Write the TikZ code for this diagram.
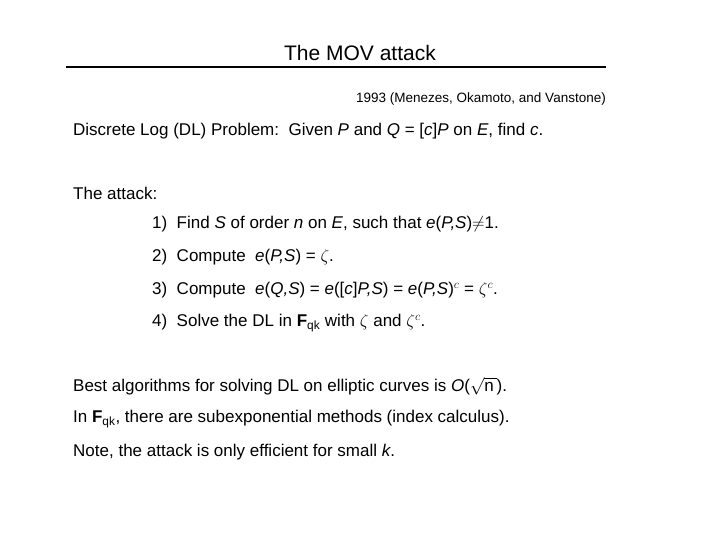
\documentclass[tikz,border=0pt]{standalone}
\usepackage{fontspec}
\setmainfont{Liberation Sans}
\begin{document}
\begin{tikzpicture}[x=1pt,y=-1pt]
\tikzset{txt/.style={anchor=west,inner sep=0pt,font=\fontsize{17}{20}\selectfont}}
\useasboundingbox (0,0) rectangle (720,540);
\node[inner sep=0pt,font=\fontsize{21}{24}\selectfont] (title) at (360,53) {The MOV attack};
\draw[line width=1.2pt] (66,67) -- (606,67);
\node[anchor=east,inner sep=0pt,font=\fontsize{13.5}{16}\selectfont] (sub) at (606,99) {1993 (Menezes, Okamoto, and Vanstone)};
\node[txt] (dl) at (73,131) {Discrete Log (DL) Problem:\ \ Given \textit{P} and \textit{Q} = [\textit{c}]\textit{P} on \textit{E}, find \textit{c}.};
\node[txt] (att) at (73,193) {The attack:};
\node[txt] (s1) at (152,224) {1)\ \ Find \textit{S} of order \textit{n} on \textit{E}, such that \textit{e}(\textit{P,S})$\neq$1.};
\node[txt] (s2) at (152,257) {2)\ \ Compute\ \ \textit{e}(\textit{P,S}) = $\zeta$.};
\node[txt] (s3) at (152,290) {3)\ \ Compute\ \ \textit{e}(\textit{Q,S}) = \textit{e}([\textit{c}]\textit{P,S}) = \textit{e}(\textit{P,S})$^{c}$ = $\zeta^{c}$.};
\node[txt] (s4) at (152,323) {4)\ \ Solve the DL in \textbf{F}\textsubscript{qk} with $\zeta$ and $\zeta^{c}$.};
\node[txt] (b1) at (73,386) {Best algorithms for solving DL on elliptic curves is \textit{O}($\sqrt{\mbox{n\,}}$).};
\node[txt] (b2) at (73,419) {In \textbf{F}\textsubscript{qk}, there are subexponential methods (index calculus).};
\node[txt] (b3) at (73,452) {Note, the attack is only efficient for small \textit{k}.};
\end{tikzpicture}
\end{document}
